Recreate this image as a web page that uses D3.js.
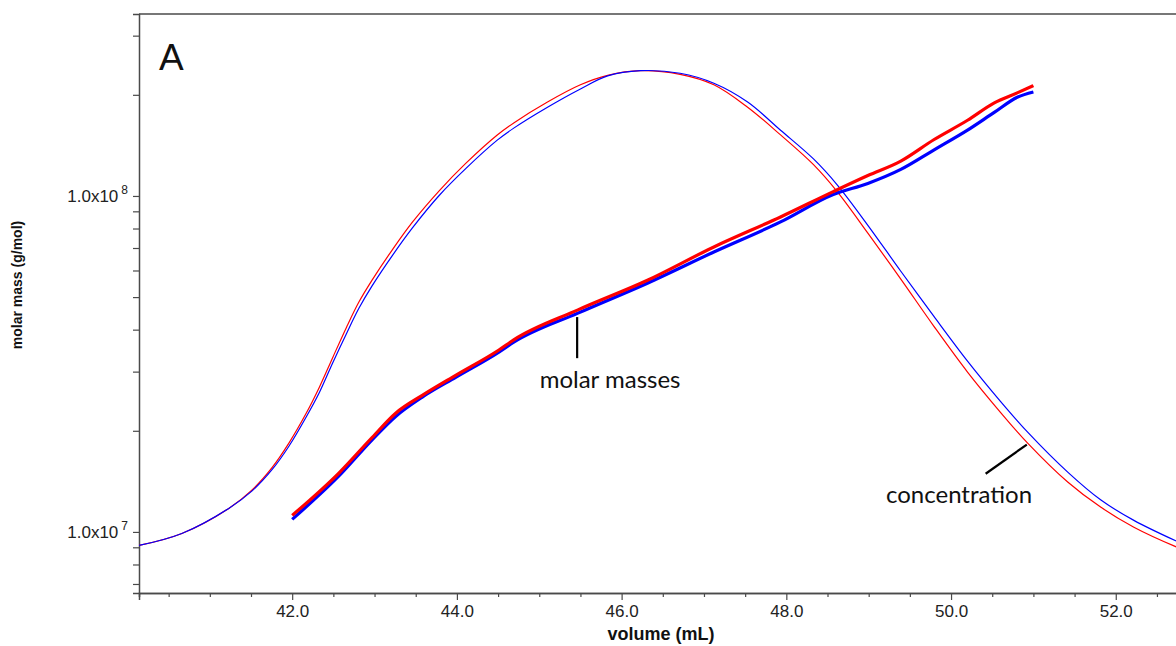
<!DOCTYPE html>
<html>
<head>
<meta charset="utf-8">
<script src="https://cdn.jsdelivr.net/npm/d3@7"></script>
<style>
  html, body { margin: 0; padding: 0; background: #fff; }
  svg { display: block; }
</style>
</head>
<body>
<svg id="chart" width="1176" height="646"></svg>
<script>
// concentration traces (relative detector signal, peak = 1)
const concVolume = [40.14, 40.66, 41.23, 41.51, 41.76, 41.96, 42.17, 42.33, 42.49, 42.66, 42.81, 42.97, 43.22, 43.46, 43.79, 44.11, 44.49, 44.69, 45.10, 45.50, 45.83, 46.23, 46.71, 47.12, 47.53, 47.93, 48.33, 48.62, 48.99, 49.39, 49.79, 50.20, 50.60, 50.93, 51.42, 51.82, 52.22, 52.74];
const concRed = [0.091, 0.114, 0.162, 0.197, 0.241, 0.287, 0.344, 0.394, 0.450, 0.509, 0.557, 0.599, 0.658, 0.710, 0.771, 0.823, 0.877, 0.900, 0.940, 0.973, 0.991, 1.000, 0.993, 0.973, 0.930, 0.877, 0.820, 0.768, 0.689, 0.601, 0.511, 0.423, 0.346, 0.287, 0.212, 0.164, 0.126, 0.088];
const concBlue = [0.091, 0.114, 0.162, 0.195, 0.237, 0.281, 0.337, 0.384, 0.440, 0.497, 0.545, 0.588, 0.647, 0.699, 0.762, 0.813, 0.867, 0.890, 0.930, 0.965, 0.990, 1.000, 0.995, 0.976, 0.940, 0.886, 0.831, 0.781, 0.704, 0.616, 0.530, 0.444, 0.367, 0.308, 0.231, 0.178, 0.139, 0.099];

// molar masses (g/mol)
const massVolume = [42.00, 42.57, 42.97, 43.26, 43.58, 43.99, 44.51, 44.69, 45.47, 46.32, 47.12, 47.93, 48.57, 48.99, 49.39, 49.79, 50.20, 50.52, 50.81, 51.00];
const massRed = [1.12e7, 1.50e7, 1.91e7, 2.26e7, 2.55e7, 2.93e7, 3.48e7, 3.73e7, 4.58e7, 5.62e7, 7.05e7, 8.66e7, 1.03e8, 1.15e8, 1.27e8, 1.47e8, 1.68e8, 1.89e8, 2.03e8, 2.13e8];
const massBlue = [1.09e7, 1.47e7, 1.88e7, 2.21e7, 2.52e7, 2.89e7, 3.43e7, 3.67e7, 4.48e7, 5.51e7, 6.81e7, 8.37e7, 1.01e8, 1.09e8, 1.20e8, 1.37e8, 1.57e8, 1.77e8, 1.97e8, 2.04e8];

// axes
const xDomain = [40.14, 52.78];
const yDomain = [6.58e6, 3.48e8];
const xMajorTicks = [42, 44, 46, 48, 50, 52];
const yMajorTicks = [1e7, 1e8];
const xTitle = 'volume (mL)';
const yTitle = 'molar mass (g/mol)';
const panelLabel = 'A';

// annotations: [volume, molar mass] anchors
const massNote = { text: 'molar masses', line: [[45.46, 4.36e7], [45.46, 3.29e7]], label: [45.86, 2.68e7] };
const concNote = { text: 'concentration', line: [[50.42, 1.49e7], [50.92, 1.82e7]], label: [49.21, 1.22e7] };

const margin = { top: 14, right: -4, bottom: 53, left: 139 };
const svg = d3.select('#chart');
const W = +svg.attr('width'), H = +svg.attr('height');
const width = W - margin.left - margin.right;
const height = H - margin.top - margin.bottom;
const g = svg.append('g').attr('transform', `translate(${margin.left},${margin.top})`);

const x = d3.scaleLinear().domain(xDomain).range([0, width]);
const y = d3.scaleLog().domain(yDomain).range([height, 0]);
// hidden linear axis for the concentration signal (peak sits near 2.36e8 on the mass axis)
const yc = d3.scaleLinear().domain([0, 1]).range([height, y(2.36e8)]);

const axisColor = '#4a4a4a';
const font = '"Liberation Sans", Arial, sans-serif';

// x axis: minor every 0.5, labels on the even volumes
const xMinor = d3.range(40.5, 52.8, 0.5).filter(v => !xMajorTicks.includes(v));
const xAxisMinor = d3.axisBottom(x).tickValues(xMinor).tickSize(4).tickFormat('');
const xAxis = d3.axisBottom(x).tickValues(xMajorTicks).tickSize(7).tickPadding(5).tickFormat(d3.format('.1f'));

const gxm = g.append('g').attr('transform', `translate(0,${height})`).call(xAxisMinor);
const gx = g.append('g').attr('transform', `translate(0,${height})`).call(xAxis);
[gxm, gx].forEach(a => {
  a.select('.domain').attr('stroke', axisColor).attr('stroke-width', 1.5);
  a.selectAll('.tick line').attr('stroke', axisColor).attr('stroke-width', 1.2);
});
gx.selectAll('.tick text')
  .attr('fill', '#222')
  .style('font-family', font)
  .style('font-size', '17px');

// y axis: log ticks 2..9 unlabeled, decades labelled 1.0x10^n
const yAll = [];
for (let d = 6; d <= 8; d++) for (let k = 1; k <= 9; k++) {
  const v = k * Math.pow(10, d);
  if (v >= yDomain[0] && v <= yDomain[1]) yAll.push(v);
}
const yAxis = d3.axisLeft(y).tickValues(yAll).tickSize(6).tickFormat('');
const gy = g.append('g').call(yAxis);
gy.select('.domain').attr('stroke', axisColor).attr('stroke-width', 1.5);
gy.selectAll('.tick line').attr('stroke', axisColor).attr('stroke-width', 1.2);

const yLab = g.selectAll('.ylab')
  .data(yMajorTicks)
  .enter().append('text')
  .attr('class', 'ylab')
  .attr('x', -11)
  .attr('y', d => y(d))
  .attr('dy', '0.38em')
  .attr('text-anchor', 'end')
  .attr('fill', '#222')
  .style('font-family', font)
  .style('font-size', '17px');
yLab.append('tspan').text('1.0x10');
yLab.append('tspan')
  .attr('dx', 3)
  .attr('dy', '-0.7em')
  .style('font-size', '12px')
  .text(d => Math.round(Math.log10(d)));

// top frame line
g.append('line')
  .attr('x1', 0).attr('x2', width)
  .attr('y1', 0).attr('y2', 0)
  .attr('stroke', axisColor)
  .attr('stroke-width', 1.5);

// axis titles
svg.append('text')
  .attr('x', 661)
  .attr('y', 640)
  .attr('text-anchor', 'middle')
  .attr('fill', '#111')
  .style('font-family', font)
  .style('font-weight', 'bold')
  .style('font-size', '18px')
  .text(xTitle);

svg.append('text')
  .attr('transform', 'translate(22,285) rotate(-90)')
  .attr('text-anchor', 'middle')
  .attr('fill', '#111')
  .style('font-family', font)
  .style('font-weight', 'bold')
  .style('font-size', '14px')
  .text(yTitle);

// panel label
g.append('text')
  .attr('x', 20)
  .attr('y', 56)
  .attr('fill', '#111')
  .style('font-family', font)
  .style('font-size', '37px')
  .text(panelLabel);

// curves
const plot = g.append('g');
plot.append('clipPath').attr('id', 'clip')
  .append('rect').attr('width', width).attr('height', height);
plot.attr('clip-path', 'url(#clip)');

const concLine = d3.line()
  .x(d => x(d[0]))
  .y(d => yc(d[1]))
  .curve(d3.curveCatmullRom.alpha(0.5));
const massLine = d3.line()
  .x(d => x(d[0]))
  .y(d => y(d[1]))
  .curve(d3.curveMonotoneX);

const series = [
  { vol: concVolume, val: concRed, line: concLine, color: '#ff0000', w: 1.2 },
  { vol: concVolume, val: concBlue, line: concLine, color: '#0000ff', w: 1.2 },
  { vol: massVolume, val: massBlue, line: massLine, color: '#0000ff', w: 3.2 },
  { vol: massVolume, val: massRed, line: massLine, color: '#ff0000', w: 3.2 }
];

series.forEach(s => {
  plot.append('path')
    .datum(s.vol.map((v, i) => [v, s.val[i]]))
    .attr('fill', 'none')
    .attr('stroke', s.color)
    .attr('stroke-width', s.w)
    .attr('stroke-linejoin', 'round')
    .attr('d', s.line);
});

// annotations
[massNote, concNote].forEach(n => {
  g.append('line')
    .attr('x1', x(n.line[0][0])).attr('y1', y(n.line[0][1]))
    .attr('x2', x(n.line[1][0])).attr('y2', y(n.line[1][1]))
    .attr('stroke', '#000')
    .attr('stroke-width', 2.2);
});
g.append('text')
  .attr('x', x(massNote.label[0]))
  .attr('y', y(massNote.label[1]))
  .attr('text-anchor', 'middle')
  .attr('fill', '#111')
  .style('font-family', 'Lato, "Open Sans", sans-serif')
  .style('font-size', '24px')
  .text(massNote.text);
g.append('text')
  .attr('x', x(concNote.label[0]))
  .attr('y', y(concNote.label[1]))
  .attr('text-anchor', 'start')
  .attr('fill', '#111')
  .style('font-family', 'Lato, "Open Sans", sans-serif')
  .style('font-size', '24px')
  .text(concNote.text);
</script>
</body>
</html>
